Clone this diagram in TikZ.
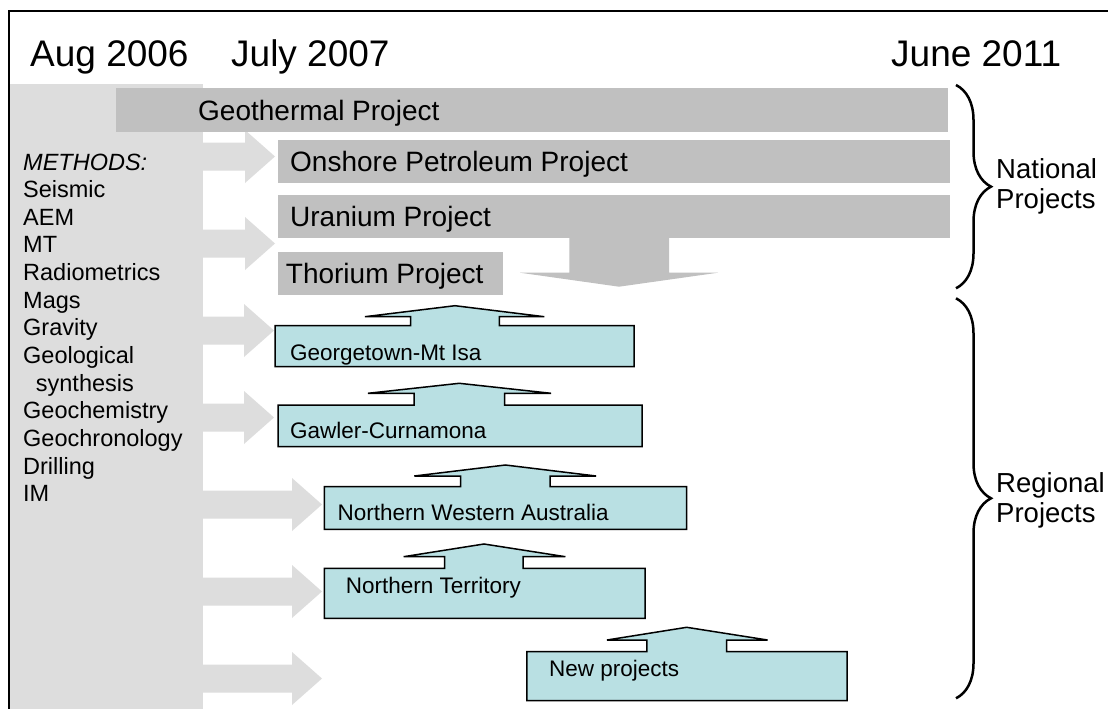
\documentclass[tikz,border=0pt]{standalone}
\usepackage{fontspec}
\setmainfont{Liberation Sans}
\usetikzlibrary{decorations.pathreplacing}
\definecolor{panelgray}{HTML}{DDDDDD}
\definecolor{bargray}{HTML}{C0C0C0}
\definecolor{cyanfill}{HTML}{B9E0E3}
\begin{document}
\begin{tikzpicture}[x=1pt,y=-1pt,
  bartext/.style={font=\fontsize{28}{32}\selectfont, anchor=base west, inner sep=0},
  datetext/.style={font=\fontsize{37}{40}\selectfont, anchor=base west, inner sep=0},
  boxtext/.style={font=\fontsize{22.5}{26}\selectfont, anchor=base west, inner sep=0},
  methodtext/.style={font=\fontsize{23.5}{27.6}\selectfont, anchor=base west, inner sep=0},
  sidelabel/.style={font=\fontsize{27.5}{30}\selectfont, anchor=west, align=left, inner sep=0},
  rarrow/.style={fill=panelgray},
  graybar/.style={fill=bargray},
  callout/.style={fill=cyanfill, draw=black, line width=1.5pt, line join=miter},
  bracestyle/.style={decorate, decoration={brace, amplitude=35pt}, line width=2.5pt}
]
\useasboundingbox (0,0) rectangle (1108,709);
\fill[white] (0,0) rectangle (1108,709);
\draw[line width=2pt] (9,11) rectangle (1130,730);
\fill[panelgray] (10,84) rectangle (203,720);

% arrows from methods panel
\foreach \c/\t in {156.5/275, 243.5/275, 330.5/274, 417.5/274, 504.5/322, 591.5/322, 678.5/322} {
  \fill[rarrow] (200,\c-14) -- (\t-30,\c-14) -- (\t-30,\c-26.5) -- (\t,\c) -- (\t-30,\c+26.5) -- (\t-30,\c+14) -- (200,\c+14) -- cycle;
}

% national project bars
\fill[graybar] (116,88.3) rectangle (947.6,131.7);
\fill[graybar] (278,140) rectangle (950,183.3);
\fill[graybar] (278,195) rectangle (950,238.3);
\fill[graybar] (278,251.7) rectangle (503,295);
\fill[graybar] (569.3,236) -- (569.3,272.7) -- (520,272.7) -- (619,286.7) -- (718,272.7) -- (669,272.7) -- (669,236) -- cycle;

\node[bartext] (geo) at (198,120) {Geothermal Project};
\node[bartext] (onshore) at (290,171.7) {Onshore Petroleum Project};
\node[bartext] (uranium) at (290,226.7) {Uranium Project};
\node[bartext] (thorium) at (285.7,283.3) {Thorium Project};

% regional callouts
\draw[callout] (275,366.7) -- (275,325.7) -- (410.7,325.7) -- (410.7,316.7) -- (365,316.7) -- (455,305.7) -- (544.3,316.7) -- (499.3,316.7) -- (499.3,325.7) -- (634,325.7) -- (634,366.7) -- cycle;
\draw[callout] (278,446.7) -- (278,405) -- (414,405) -- (414,393.3) -- (368,393.3) -- (459.3,383.3) -- (551,393.3) -- (504.6,393.3) -- (504.6,405) -- (642,405) -- (642,446.7) -- cycle;
\draw[callout] (324.3,529.3) -- (324.3,486.7) -- (460.7,486.7) -- (460.7,476) -- (414.3,476) -- (505.4,465) -- (596,476) -- (550,476) -- (550,486.7) -- (686.7,486.7) -- (686.7,529.3) -- cycle;
\draw[callout] (324.3,618.3) -- (324.3,568.3) -- (444.6,568.3) -- (444.6,556.7) -- (403.6,556.7) -- (484,544) -- (565.4,556.7) -- (523.2,556.7) -- (523.2,568.3) -- (645,568.3) -- (645,618.3) -- cycle;
\draw[callout] (526.8,700.7) -- (526.8,651.7) -- (646.9,651.7) -- (646.9,640) -- (607,640) -- (686.7,627.3) -- (767.5,640) -- (726.6,640) -- (726.6,651.7) -- (847.2,651.7) -- (847.2,700.7) -- cycle;

\node[boxtext] (gm) at (290,360) {Georgetown-Mt Isa};
\node[boxtext] (gc) at (290,438.3) {Gawler-Curnamona};
\node[boxtext] (nwa) at (337.5,520) {Northern Western Australia};
\node[boxtext] (nt) at (345.7,593.3) {Northern Territory};
\node[boxtext] (np) at (549,676.7) {New projects};

% dates
\node[datetext] (d1) at (30,66.7) {Aug 2006};
\node[datetext] (d2) at (231,66.7) {July 2007};
\node[datetext] (d3) at (891,66.7) {June 2011};

% methods
\node[methodtext, font=\fontsize{23.5}{27.6}\selectfont\itshape] (m0) at (23,170) {METHODS:};
\foreach \txt [count=\i] in {Seismic,AEM,MT,Radiometrics,Mags,Gravity,Geological,{\hspace{12.7pt}synthesis},Geochemistry,Geochronology,Drilling,IM}
  \node[methodtext] (m\i) at (23,170+27.64*\i) {\txt};

% braces
\draw[bracestyle] (956,85) -- (956,288.3);
\coordinate (ntip) at (996,186.7);
\node[sidelabel] (natl) at (ntip) {National\\Projects};
\draw[bracestyle] (956,298.3) -- (956,698.3);
\coordinate (rtip) at (996,500);
\node[sidelabel] (regl) at (rtip) {Regional\\Projects};
\end{tikzpicture}
\end{document}
